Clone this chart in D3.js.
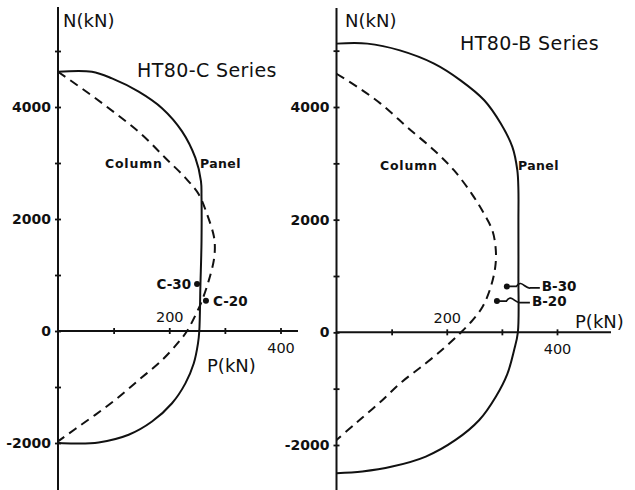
<!DOCTYPE html>
<html>
<head>
<meta charset="utf-8">
<script src="https://cdn.jsdelivr.net/npm/d3@7"></script>
<style>
  html, body { margin: 0; padding: 0; background: #fff; }
  svg { display: block; font-family: "DejaVu Sans", sans-serif; }
</style>
</head>
<body>
<div id="chart"></div>
<script>
// Interaction curves, each point is [P (kN), N (kN)]
const panelC = [[0,4630],[61,4630],[97,4511],[145,4275],[187,3979],[223,3565],[247,3090],[257,2677],[258,2380],
  [258,1600],[256,800],[254,0],[251.6,-224],[244,-580],[229,-935],[205,-1290],[169,-1617],[127,-1853],[73,-1990],[31,-2008],[0,-2000]];
const columnC = [[0,4630],[55,4245],[103,3890],[151,3506],[193,3090],[229,2735],[253,2440],[268,2085],[280,1700],
  [282,1500],[280,1256],[271,900],[259,546],[247,280],[232,0],[217,-195],[187,-520],[145,-876],[103,-1230],[67,-1497],[31,-1750],[0,-1970]];
const panelB = [[0,5125],[56,5125],[115,5005],[177,4770],[225,4473],[268,4119],[298,3706],[319,3291],[328,2878],[330,2523],
  [330,2000],[330,1000],[329,0],[322,-322],[310,-736],[289,-1142],[259,-1556],[216,-1910],[162,-2205],[101,-2383],[47,-2470],[0,-2500]];
const columnB = [[0,4590],[38,4355],[80,4060],[128,3645],[177,3232],[213,2878],[246,2450],[268,2100],[283,1800],[289,1460],
  [288,1160],[280,810],[265,454],[247,218],[226,0],[198,-255],[162,-550],[119,-876],[77,-1259],[35,-1613],[0,-1910]];

// Test results
const testNamesC = ["C-30", "C-20"];
const testP_C = [250, 266];
const testN_C = [839, 541];
const testNamesB = ["B-30", "B-20"];
const testP_B = [309, 291];
const testN_B = [815, 555];

// Ticks
const nTicks = [-2000, -1000, 0, 1000, 2000, 3000, 4000, 5000];
const nLabels = [-2000, 0, 2000, 4000];
const pTicks = [100, 200, 300, 400];
const pLabelsAbove = [200];
const pLabelsBelow = [400];

const W = 635, H = 490;
const svg = d3.select("#chart").append("svg")
    .attr("width", W)
    .attr("height", H);
svg.append("rect").attr("width", W).attr("height", H).attr("fill", "#fff");

const ink = "#111";

function drawPanel(cfg) {
  const g = svg.append("g");
  const x = d3.scaleLinear().domain([0, 400]).range(cfg.xRange);
  const y = d3.scaleLinear().domain([-2000, 4000]).range(cfg.yRange);

  // y axis
  const yAxis = d3.axisLeft(y).tickValues(nTicks).tickSize(0).tickPadding(7)
      .tickFormat(d => nLabels.includes(d) ? String(d) : "");
  const gy = g.append("g").attr("transform", `translate(${x(0)},0)`).call(yAxis)
      .attr("font-family", null).attr("font-size", null);
  gy.select(".domain").remove();
  gy.selectAll(".tick line").attr("x1", -3).attr("x2", 3).attr("stroke", ink).attr("stroke-width", 1.8);
  gy.selectAll(".tick text").attr("font-size", 14).attr("font-weight", "bold").attr("fill", ink);

  g.append("line")
      .attr("x1", x(0)).attr("x2", x(0))
      .attr("y1", cfg.top).attr("y2", H)
      .attr("stroke", ink).attr("stroke-width", 2);

  // x axis
  const xAxis = d3.axisBottom(x).tickValues(pTicks).tickSize(0)
      .tickFormat(d => (pLabelsAbove.includes(d) || pLabelsBelow.includes(d)) ? String(d) : "");
  const gx = g.append("g").attr("transform", `translate(0,${y(0)})`).call(xAxis)
      .attr("font-family", null).attr("font-size", null);
  gx.select(".domain").remove();
  gx.selectAll(".tick line").attr("y1", -3).attr("y2", 3).attr("stroke", ink).attr("stroke-width", 1.8);
  gx.selectAll(".tick text")
      .attr("dy", null)
      .attr("y", d => pLabelsAbove.includes(d) ? -9 : 22)
      .attr("font-size", 14.5).attr("fill", ink);

  g.append("line")
      .attr("x1", x(0)).attr("x2", cfg.right)
      .attr("y1", y(0)).attr("y2", y(0))
      .attr("stroke", ink).attr("stroke-width", 2);

  // curves
  const line = d3.line()
      .x(d => x(d[0]))
      .y(d => y(d[1]))
      .curve(d3.curveCatmullRom.alpha(0.5));

  g.append("path").datum(cfg.column)
      .attr("d", line)
      .attr("fill", "none").attr("stroke", ink).attr("stroke-width", 2)
      .attr("stroke-dasharray", "9,6");

  g.append("path").datum(cfg.panel)
      .attr("d", line)
      .attr("fill", "none").attr("stroke", ink).attr("stroke-width", 2);

  // texts
  g.append("text").attr("x", cfg.title[0]).attr("y", cfg.title[1])
      .attr("font-size", 19).attr("letter-spacing", 0.4).attr("fill", ink).text(cfg.titleText);
  g.append("text").attr("x", cfg.nLab[0]).attr("y", cfg.nLab[1])
      .attr("font-size", 18).attr("fill", ink).text("N(kN)");
  g.append("text").attr("x", cfg.pLab[0]).attr("y", cfg.pLab[1])
      .attr("font-size", 18).attr("fill", ink).text("P(kN)");
  g.append("text").attr("x", cfg.colLab[0]).attr("y", cfg.colLab[1])
      .attr("font-size", 12.5).attr("font-weight", "bold").attr("letter-spacing", 0.8)
      .attr("fill", ink).text("Column");
  g.append("text").attr("x", cfg.panLab[0]).attr("y", cfg.panLab[1])
      .attr("font-size", 12.5).attr("font-weight", "bold").attr("letter-spacing", 0.4)
      .attr("fill", ink).text("Panel");

  // test points
  const tests = cfg.names.map((name, i) => ({ name, p: cfg.tp[i], n: cfg.tn[i], i }));
  g.selectAll("circle.test").data(tests).enter().append("circle")
      .attr("class", "test")
      .attr("cx", d => x(d.p)).attr("cy", d => y(d.n))
      .attr("r", 3).attr("fill", ink);

  if (cfg.leaders) {
    // small "~" shaped leader from the point to its label
    g.selectAll("path.leader").data(tests).enter().append("path")
        .attr("class", "leader")
        .attr("d", d => {
          const px = x(d.p), py = y(d.n);
          const lx = px + cfg.leaders[d.i];
          const mx = (px + lx) / 2 + 1;
          return `M${px},${py}L${mx - 8},${py}C${mx - 3},${py - 8} ${mx + 1},${py + 3} ${mx + 6},${py + 1.5}L${lx},${py + 1.5}`;
        })
        .attr("fill", "none").attr("stroke", ink).attr("stroke-width", 1.7);
  }

  g.selectAll("text.test").data(tests).enter().append("text")
      .attr("class", "test")
      .attr("x", d => x(d.p) + cfg.labelDx[d.i])
      .attr("y", d => y(d.n) + 5)
      .attr("text-anchor", d => cfg.labelDx[d.i] < 0 ? "end" : "start")
      .attr("font-size", 13.5).attr("font-weight", "bold").attr("fill", ink)
      .text(d => d.name);
}

drawPanel({
  xRange: [58, 280.5], yRange: [443, 107], top: 7, right: 298,
  panel: panelC, column: columnC,
  titleText: "HT80-C Series", title: [137, 77],
  nLab: [63, 27], pLab: [207, 372],
  colLab: [105, 168], panLab: [200, 168],
  names: testNamesC, tp: testP_C, tn: testN_C,
  labelDx: [-6, 7], leaders: null
});

drawPanel({
  xRange: [336.5, 557], yRange: [445, 107], top: 8, right: 611,
  panel: panelB, column: columnB,
  titleText: "HT80-B Series", title: [460, 50],
  nLab: [345, 27], pLab: [575, 328],
  colLab: [380, 170], panLab: [518, 170],
  names: testNamesB, tp: testP_B, tn: testN_B,
  labelDx: [35, 35], leaders: [33, 33]
});
</script>
</body>
</html>
